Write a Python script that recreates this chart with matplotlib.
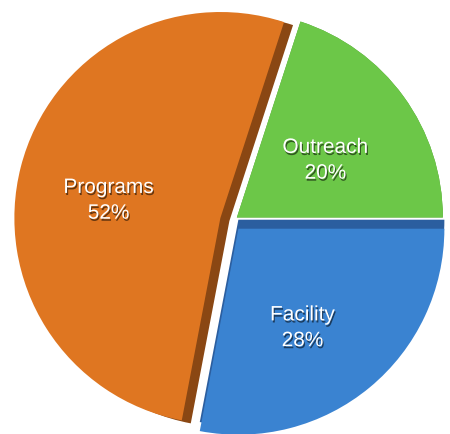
import matplotlib.pyplot as plt
import matplotlib.patheffects as pe

# data
names = ['Outreach', 'Facility', 'Programs']
shares = [20, 28, 52]
face_colors = ['#6cc748', '#3a83d1', '#df7621']
side_colors = ['#4f9a33', '#2b5e9f', '#8a4713']

# layout in pixel units (y up)
W, H = 450, 434
cx, cy = 232, H - 221
r = 206
explode = [6, 10, 12]          # pie takes these in data units, i.e. pixels here
side_shift = [(0, 0), (0, 9), (9, -3)]
label_nudge = [(-8, -13), (-12, -7), (4, -12)]

fig = plt.figure(figsize=(W / 100, H / 100), dpi=100)
ax = fig.add_axes([0, 0, 1, 1])

# darker copies behind the faces give the 3d edge
sides, _ = ax.pie(shares, colors=side_colors, explode=explode, startangle=72,
                  counterclock=False, radius=r, center=(cx, cy),
                  wedgeprops=dict(linewidth=0))
for w, (dx, dy) in zip(sides, side_shift):
    x0, y0 = w.center
    w.set_center((x0 + dx, y0 + dy))
    w.set_zorder(1)

labels = [f'{n}\n{s}%' for n, s in zip(names, shares)]
wedges, texts = ax.pie(shares, colors=face_colors, explode=explode, startangle=72,
                       counterclock=False, radius=r, center=(cx, cy),
                       labels=labels, labeldistance=0.58,
                       wedgeprops=dict(linewidth=0),
                       textprops=dict(ha='center', va='center', color='white',
                                      fontsize=15, family='Liberation Sans',
                                      linespacing=1.45))
for w in wedges:
    w.set_zorder(2)
for t, (dx, dy) in zip(texts, label_nudge):
    x0, y0 = t.get_position()
    t.set_position((x0 + dx, y0 + dy))
    t.set_zorder(3)
    t.set_path_effects([pe.withSimplePatchShadow(offset=(0.8, -1.5),
                                                  shadow_rgbFace='black',
                                                  alpha=0.55)])

ax.set_xlim(0, W)
ax.set_ylim(0, H)
ax.set_aspect('equal')
ax.axis('off')

fig.savefig('out.png', dpi=100, facecolor='white')
